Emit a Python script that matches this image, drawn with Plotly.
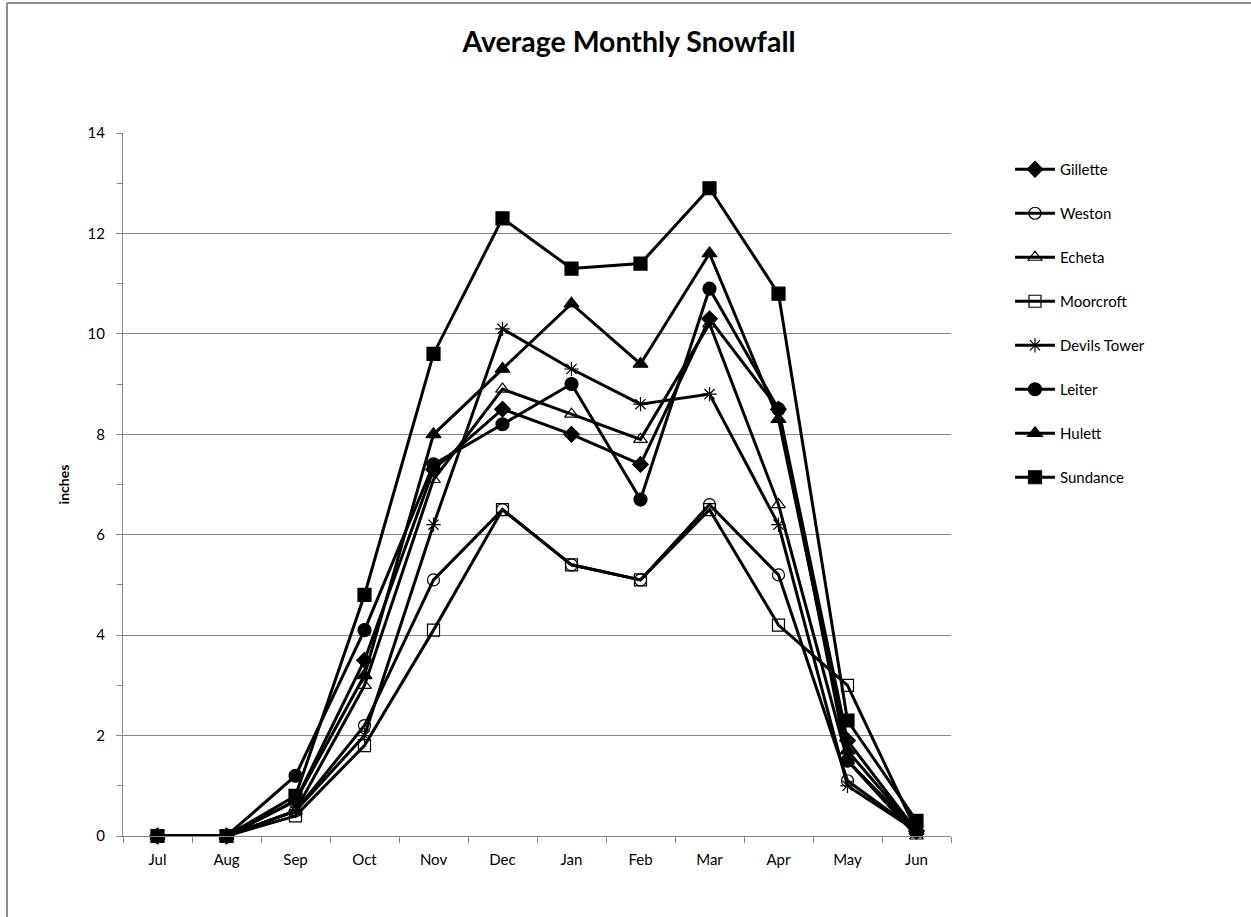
import plotly.graph_objects as go

months = ["Jul", "Aug", "Sep", "Oct", "Nov", "Dec", "Jan", "Feb", "Mar", "Apr", "May", "Jun"]

gillette = [0, 0, 0.7, 3.5, 7.3, 8.5, 8.0, 7.4, 10.3, 8.5, 1.9, 0.1]
weston = [0, 0, 0.5, 2.2, 5.1, 6.5, 5.4, 5.1, 6.6, 5.2, 1.1, 0.1]
echeta = [0, 0, 0.5, 3.0, 7.1, 8.9, 8.4, 7.9, 10.2, 6.6, 1.5, 0.0]
moorcroft = [0, 0, 0.4, 1.8, 4.1, 6.5, 5.4, 5.1, 6.5, 4.2, 3.0, 0.1]
devils_tower = [0, 0, 0.5, 2.0, 6.2, 10.1, 9.3, 8.6, 8.8, 6.2, 1.0, 0.1]
leiter = [0, 0, 1.2, 4.1, 7.4, 8.2, 9.0, 6.7, 10.9, 8.5, 1.5, 0.1]
hulett = [0, 0, 0.7, 3.2, 8.0, 9.3, 10.6, 9.4, 11.6, 8.3, 1.7, 0.1]
sundance = [0, 0, 0.8, 4.8, 9.6, 12.3, 11.3, 11.4, 12.9, 10.8, 2.3, 0.3]

series = [
    ("Gillette", gillette, "diamond", 12),
    ("Weston", weston, "circle-open", 12),
    ("Echeta", echeta, "triangle-up-open", 12),
    ("Moorcroft", moorcroft, "square-open", 12),
    ("Devils Tower", devils_tower, "asterisk-open", 12),
    ("Leiter", leiter, "circle", 13),
    ("Hulett", hulett, "triangle-up", 13),
    ("Sundance", sundance, "square", 13),
]

FONT = "Lato, 'Open Sans', sans-serif"
GRID = "#878787"

fig = go.Figure()
for name, vals, sym, size in series:
    fig.add_trace(go.Scatter(
        x=months, y=vals, name=name, mode="lines+markers",
        line=dict(color="black", width=3),
        marker=dict(symbol=sym, size=size, color="black",
                    line=dict(color="black", width=1.2)),
        cliponaxis=False, legendgroup=name,
    ))

W, H = 1251, 917
L, R, T, B = 123, 951, 133, 836

def px_x(p):
    return (p - L) / (R - L)

def px_y(p):
    return (B - p) / (B - T)

fig.update_layout(
    width=W, height=H,
    margin=dict(l=L, r=W - R, t=T, b=H - B),
    paper_bgcolor="white", plot_bgcolor="white",
    font=dict(family=FONT, size=15, color="black"),
    title=dict(text="<b>Average Monthly Snowfall</b>", x=629 / W, xref="container",
               xanchor="center", y=1 - 42 / H, yref="container", yanchor="middle",
               font=dict(size=28.5, family=FONT, color="black")),
    showlegend=True,
    legend=dict(x=px_x(1010), y=px_y(153), xanchor="left", yanchor="top",
                font=dict(size=15, family=FONT), tracegroupgap=21.5,
                bgcolor="rgba(0,0,0,0)", itemwidth=40),
    xaxis=dict(type="category", range=[-0.5, 11.5], showgrid=False,
               showline=True, linecolor=GRID, linewidth=1,
               ticks="outside", tickson="boundaries", ticklen=6, tickcolor=GRID,
               ticklabelstandoff=10,
               tickfont=dict(size=15, family=FONT), fixedrange=True),
    yaxis=dict(range=[0, 14], dtick=2, showgrid=True, gridcolor=GRID, gridwidth=1,
               showline=True, linecolor=GRID, linewidth=1, zeroline=False,
               ticks="outside", ticklen=6, tickcolor=GRID,
               ticklabelstandoff=8,
               minor=dict(dtick=1, ticks="outside", ticklen=5, tickcolor=GRID, showgrid=False),
               tickfont=dict(size=15, family=FONT),
               title=dict(text="<b>inches</b>", font=dict(size=14, family=FONT), standoff=14)),
    shapes=[
        dict(type="line", xref="paper", yref="paper", x0=px_x(7), x1=px_x(1251),
             y0=px_y(3), y1=px_y(3), line=dict(color="#8c8c8c", width=2)),
        dict(type="line", xref="paper", yref="paper", x0=px_x(7), x1=px_x(7),
             y0=px_y(3), y1=px_y(917), line=dict(color="#8c8c8c", width=2)),
    ],
)

fig.write_html("out.html", config={"displayModeBar": False},
               post_script="document.body.style.margin='0';")
